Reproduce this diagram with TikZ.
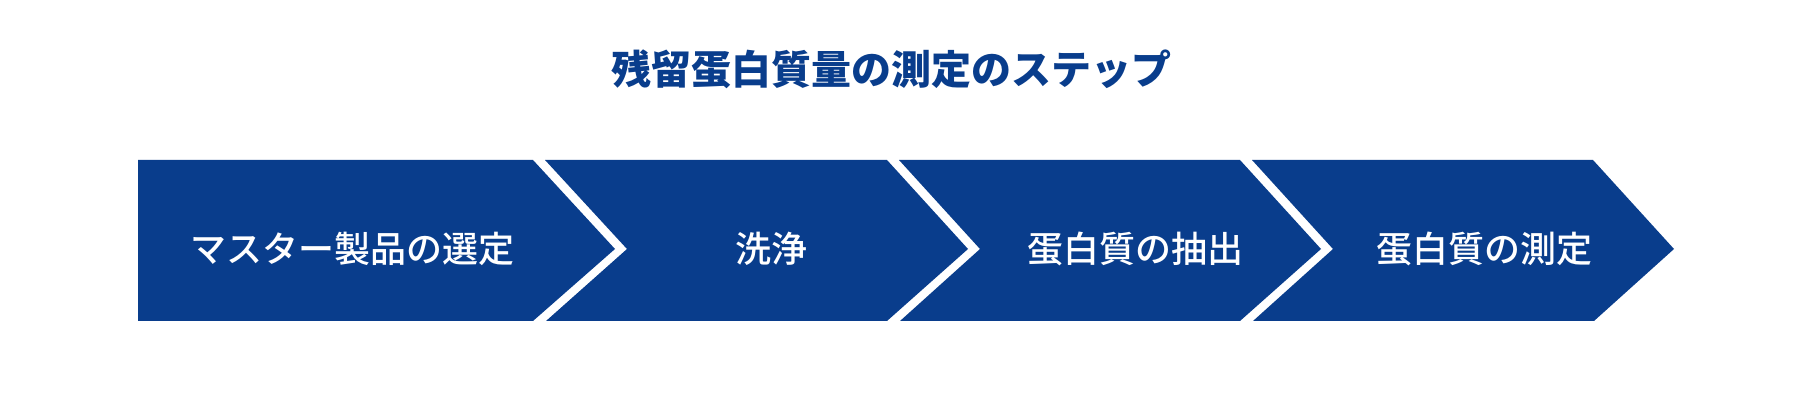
\documentclass[tikz,border=0pt]{standalone}
\usepackage{fontspec}
\newfontfamily\jp{Noto Sans CJK JP}
\newfontfamily\jpm{Noto Sans CJK JP Medium}
\definecolor{stepblue}{RGB}{9,61,140}
\begin{document}
\begin{tikzpicture}[x=1pt,y=-1pt,
  stepshape/.style={fill=stepblue,draw=none},
  steplabel/.style={text=white,font=\jpm\fontsize{36}{40}\selectfont,inner sep=0pt,anchor=center},
  titlelabel/.style={text=stepblue,font=\jp\bfseries\fontsize{40}{46}\selectfont,inner sep=0pt,anchor=center}]
\useasboundingbox (0,0) rectangle (1800,411);
\fill[white] (0,0) rectangle (1800,411);
% title
\node[titlelabel] (title) at (891,69) {残留蛋白質量の測定のステップ};
% step shapes
\fill[stepshape] (138,160) -- (533,160) -- (615,249) -- (533,321) -- (138,321) -- cycle;
\fill[stepshape] (545,160) -- (887,160) -- (968,249) -- (887,321) -- (546,321) -- (627,249) -- cycle;
\fill[stepshape] (899,160) -- (1240,160) -- (1321,249) -- (1240,321) -- (900,321) -- (980,249) -- cycle;
\fill[stepshape] (1252,160) -- (1593,160) -- (1674,249) -- (1594,321) -- (1253,321) -- (1333,249) -- cycle;
% labels
\node[steplabel] (s1) at (352,249) {マスター製品の選定};
\node[steplabel] (s2) at (771,249) {洗浄};
\node[steplabel] (s3) at (1135,249) {蛋白質の抽出};
\node[steplabel] (s4) at (1484,249) {蛋白質の測定};
\end{tikzpicture}
\end{document}
